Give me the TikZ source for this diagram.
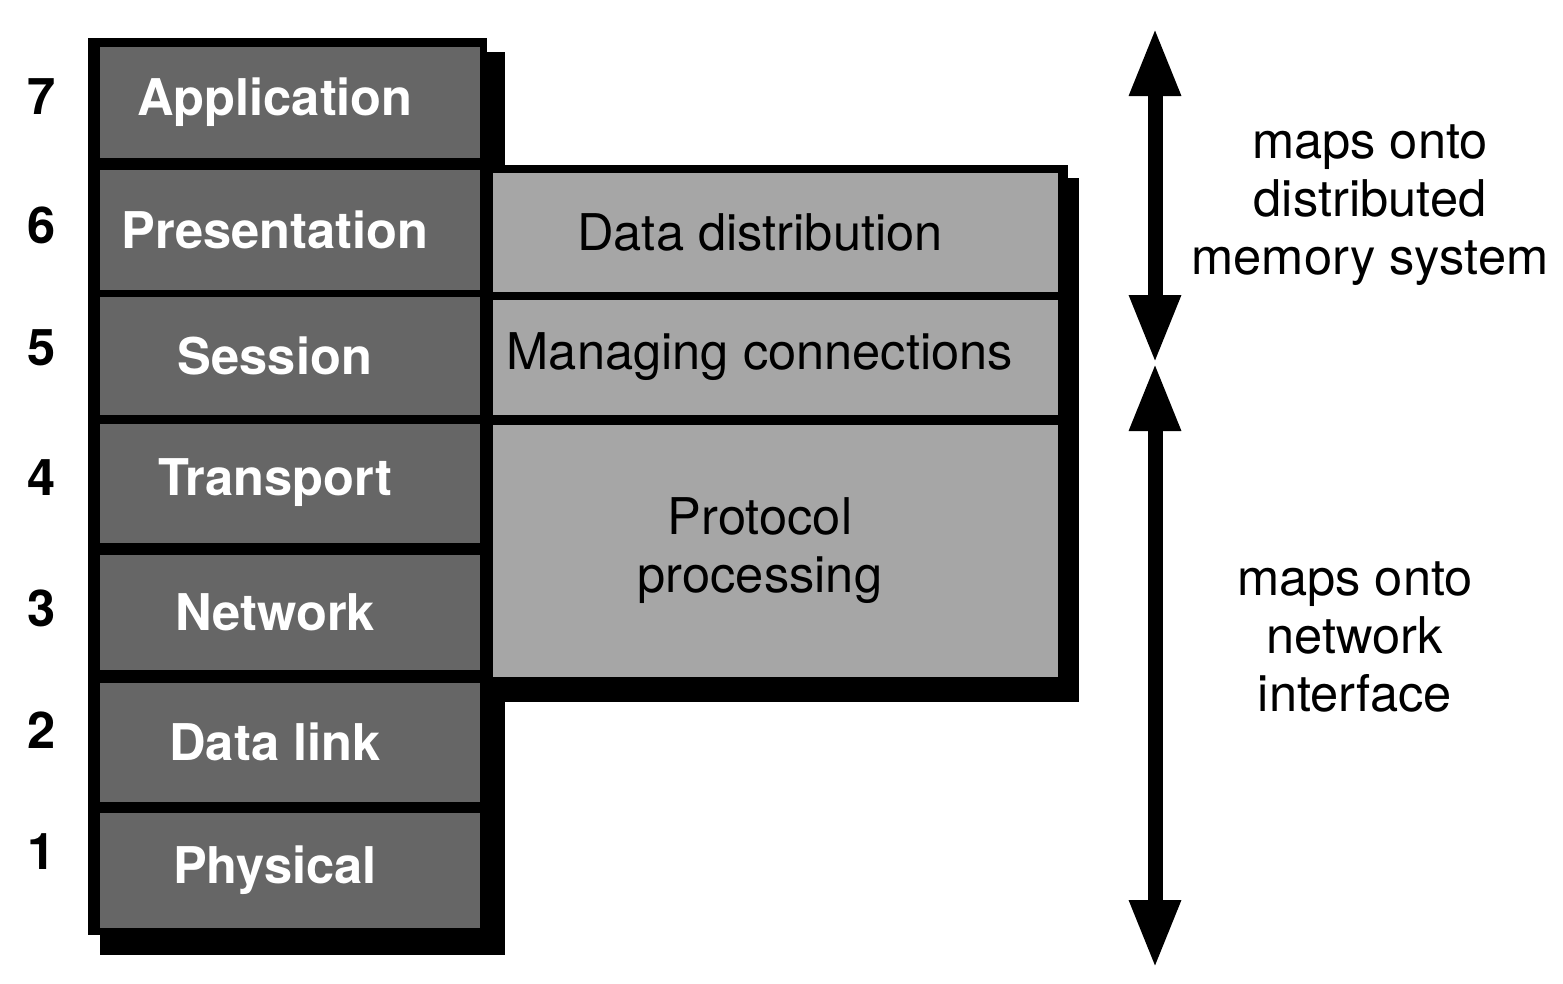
\documentclass[tikz,border=0pt]{standalone}
\usepackage{fontspec}
\setmainfont{TeX Gyre Heros}
\usetikzlibrary{arrows.meta}
\newcommand{\osisize}{\fontsize{14.4}{16.5}\selectfont}
\newcommand{\lpad}{\hspace*{3mm}}

\begin{document}
\begin{tikzpicture}[x=0.1mm, y=-0.1mm,
  layer/.style = {fill=black!60, text=white, font=\osisize\bfseries, minimum width=38mm, inner sep=0, execute at end node=\lpad},
  task/.style = {fill=black!35, text=black, font=\osisize, minimum width=56.5mm, inner sep=0, align=center},
  num/.style = {font=\osisize\bfseries},
  note/.style = {font=\osisize, align=center},
  maps/.style = {line width=1.5mm, {Triangle[width=4.8mm, length=6.8mm]}-{Triangle[width=4.8mm, length=6.8mm]}}]
\useasboundingbox (0,0) rectangle (1563,983);
\fill (100,52) rectangle (505,955);
\fill (88,38) rectangle (487,935);
\fill (505,178) rectangle (1079,702);
\fill (487,165) rectangle (1068,686);
\node[layer, minimum height=11.1mm] (7) at (290,102) {Application};
\node[layer, minimum height=12mm] (6) at (290,230) {Presentation};
\node[layer, minimum height=11.8mm] (5) at (290,356) {Session};
\node[layer, minimum height=11.9mm] (4) at (290,483) {Transport};
\node[layer, minimum height=11.5mm] (3) at (290,612) {Network};
\node[layer, minimum height=11.9mm] (2) at (290,742) {Data link};
\node[layer, minimum height=11.5mm] (1) at (290,870) {Physical};
\node[num] (n7) at (42,97) {7};
\node[num] (n6) at (42,225) {6};
\node[num] (n5) at (42,348) {5};
\node[num] (n4) at (42,478) {4};
\node[num] (n3) at (42,608) {3};
\node[num] (n2) at (42,730) {2};
\node[num] (n1) at (42,852) {1};
\node[task, minimum height=11.9mm] (dist) at (775,232) {Data distribution\lpad};
\node[task, minimum height=11.5mm] (conn) at (775,357) {Managing connections\lpad};
\node[task, minimum height=25.2mm] (proto) at (775,551) {Protocol\lpad\\processing\lpad};
\coordinate (top) at (1155,28);
\coordinate (mid) at (1155,363);
\coordinate (bot) at (1155,968);
\draw[maps] (mid) -- (top);
\draw[maps] (mid) -- (bot);
\node[note] (mem) at (1370,205) {maps onto\\distributed\\memory system};
\node[note] (net) at (1355,637) {maps onto\\network\\interface};
\end{tikzpicture}
\end{document}
